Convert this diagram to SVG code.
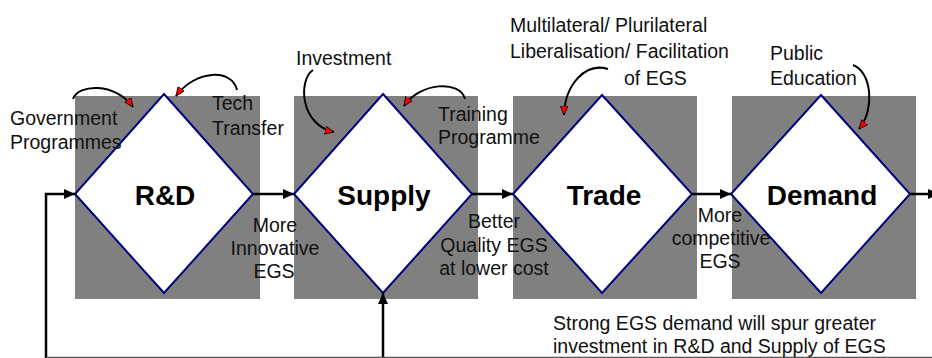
<svg xmlns="http://www.w3.org/2000/svg" width="932" height="358" viewBox="0 0 932 358">
<style>
.bg{fill:#808080}
.dia{fill:#fff;stroke:#000080;stroke-width:2}
.lbl{font-family:"Liberation Sans",Arial,sans-serif;font-size:19.5px;fill:#111}
.mid{text-anchor:middle}
.ttl{font-family:"Liberation Sans",Arial,sans-serif;font-size:28px;font-weight:bold;fill:#000;text-anchor:middle}
.con{stroke:#000;stroke-width:2.5;fill:none}
.crv{stroke:#000;stroke-width:2;fill:none}
</style>
<defs>
<marker id="ah" markerUnits="userSpaceOnUse" markerWidth="12" markerHeight="10" refX="11" refY="5" orient="auto">
<path d="M0,0 L11,5 L0,10 z" fill="#000"/>
</marker>
<marker id="rh" markerUnits="userSpaceOnUse" markerWidth="12" markerHeight="10" refX="9" refY="4" orient="auto">
<path d="M0,0 L9,4 L0,8 z" fill="#f00" stroke="#000" stroke-width="0.8"/>
</marker>
</defs>
<g id="node-rd">
<rect class="bg" x="75" y="96" width="185" height="203"/>
<polygon class="dia" points="164,94 253,194 164,293 75,194"/>
<text class="ttl" x="165" y="205">R&amp;D</text>
</g>
<g id="node-supply">
<rect class="bg" x="294" y="96" width="184" height="203"/>
<polygon class="dia" points="383,94 472,194 383,293 294,194"/>
<text class="ttl" x="384" y="205">Supply</text>
</g>
<g id="node-trade">
<rect class="bg" x="513" y="96" width="184" height="203"/>
<polygon class="dia" points="602,95 692,194 602,293 513,194"/>
<text class="ttl" x="604" y="205">Trade</text>
</g>
<g id="node-demand">
<rect class="bg" x="732" y="96" width="184" height="203"/>
<polygon class="dia" points="821,95 910,194 821,293 731,194"/>
<text class="ttl" x="822" y="205">Demand</text>
</g>
<g id="connectors">
<line class="con" x1="253" y1="194" x2="294" y2="194" marker-end="url(#ah)"/>
<line class="con" x1="472" y1="194" x2="513" y2="194" marker-end="url(#ah)"/>
<line class="con" x1="692" y1="194" x2="731" y2="194" marker-end="url(#ah)"/>
<line class="con" x1="910" y1="194" x2="939" y2="194" marker-end="url(#ah)"/>
<path class="con" d="M46,360 L46,194 L75,194" marker-end="url(#ah)"/>
<line class="con" x1="383" y1="360" x2="383" y2="293" marker-end="url(#ah)"/>
<line x1="46" y1="357.5" x2="932" y2="357.5" stroke="#555" stroke-width="1.5"/>
<path class="crv" d="M73,99 C78,84 115,82 133,107" marker-end="url(#rh)"/>
<path class="crv" d="M237,90 C232,68 195,70 176,96" marker-end="url(#rh)"/>
<path class="crv" d="M313,70 C298,80 300,125 334,132" marker-end="url(#rh)"/>
<path class="crv" d="M465,99 C460,80 420,82 404,106" marker-end="url(#rh)"/>
<path class="crv" d="M608,69 C585,62 565,85 564,115" marker-end="url(#rh)"/>
<path class="crv" d="M853,65 C872,72 875,110 859,129" marker-end="url(#rh)"/>
</g>
<g id="labels">
<text class="lbl" x="10" y="125">Government</text>
<text class="lbl" x="10" y="149">Programmes</text>
<text class="lbl" x="212" y="110">Tech</text>
<text class="lbl" x="212" y="135">Transfer</text>
<text class="lbl" x="296" y="65">Investment</text>
<text class="lbl" x="438" y="121">Training</text>
<text class="lbl" x="438" y="144">Programme</text>
<text class="lbl" x="510" y="32">Multilateral/ Plurilateral</text>
<text class="lbl" x="510" y="58">Liberalisation/ Facilitation</text>
<text class="lbl" x="624" y="85">of EGS</text>
<text class="lbl" x="770" y="60">Public</text>
<text class="lbl" x="770" y="85">Education</text>
<text class="lbl mid" x="275" y="232">More</text>
<text class="lbl mid" x="275" y="255">Innovative</text>
<text class="lbl mid" x="274" y="278">EGS</text>
<text class="lbl mid" x="494" y="228">Better</text>
<text class="lbl mid" x="494" y="252">Quality EGS</text>
<text class="lbl mid" x="494" y="275">at lower cost</text>
<text class="lbl mid" x="720" y="222">More</text>
<text class="lbl mid" x="721" y="245">competitive</text>
<text class="lbl mid" x="720" y="268">EGS</text>
<text class="lbl" x="553" y="330">Strong EGS demand will spur greater</text>
<text class="lbl" x="553" y="353">investment in R&amp;D and Supply of EGS</text>
</g>
</svg>
